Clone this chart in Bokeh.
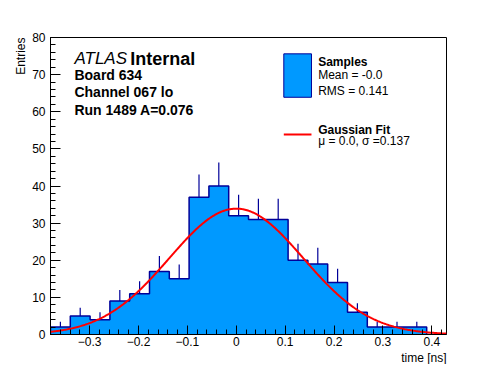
import numpy as np
from bokeh.plotting import figure
from bokeh.models import Range1d, FixedTicker, CustomJSTickFormatter, Label, Title
from bokeh.embed import file_html
from bokeh.resources import INLINE

# ---------------- data ----------------
bin_low = -0.38
bin_high = 0.43
counts = [2, 5, 4, 9, 11, 17, 15, 37, 40, 32, 31, 31, 20, 19, 14, 6, 2, 2, 2, 0]
fit_mu = 0.0
fit_sigma = 0.137
fit_amplitude = 33.9
x_major_ticks = [-0.3, -0.2, -0.1, 0.0, 0.1, 0.2, 0.3, 0.4]
y_major_ticks = [0, 10, 20, 30, 40, 50, 60, 70, 80]
y_minor_ticks = list(range(0, 81, 2))
x_minor_step = 0.02
title_lines = ["Board 634", "Channel 067 lo", "Run 1489 A=0.076"]
legend_hist_title = "Samples"
legend_hist_lines = ["Mean = -0.0", "RMS = 0.141"]
legend_fit_title = "Gaussian Fit"
legend_fit_line = "\u03bc = 0.0, \u03c3 =0.137"
x_title = "time [ns]"
y_title = "Entries"

FONT = "Liberation Sans"
HIST_FILL = "#0099ff"
HIST_LINE = "#000099"
FIT_COLOR = "#ff0000"

counts_arr = np.array(counts, dtype=float)
edges = np.linspace(bin_low, bin_high, len(counts) + 1)
centers = 0.5 * (edges[:-1] + edges[1:])

p = figure(frame_width=396, frame_height=297,
           x_range=Range1d(bin_low, bin_high), y_range=Range1d(0, 80),
           output_backend="svg", toolbar_location=None,
           min_border_left=50, min_border_right=34,
           min_border_top=37, min_border_bottom=10)
p.background_fill_color = "white"
p.border_fill_color = "white"
p.xgrid.visible = False
p.ygrid.visible = False
p.outline_line_color = "black"
p.outline_line_width = 1

x_minor = list(np.round(np.arange(bin_low, bin_high + 1e-9, x_minor_step), 2))
p.xaxis.ticker = FixedTicker(ticks=x_major_ticks, minor_ticks=x_minor)
p.xaxis.formatter = CustomJSTickFormatter(code="""
if (Math.abs(tick) < 1e-9) { return "0"; }
const s = Math.abs(tick).toFixed(1);
return tick < 0 ? "\\u2212" + s : s;
""")
p.yaxis.ticker = FixedTicker(ticks=y_major_ticks, minor_ticks=y_minor_ticks)
for ax, maj, mnr in ((p.xaxis, 9, 5), (p.yaxis, 10, 5)):
    ax.major_tick_in = maj
    ax.major_tick_out = 0
    ax.minor_tick_in = mnr
    ax.minor_tick_out = 0
    ax.major_tick_line_color = "black"
    ax.minor_tick_line_color = "black"
    ax.axis_line_color = "black"
    ax.major_label_text_font = FONT
    ax.major_label_text_font_size = "12px"
    ax.major_label_text_color = "black"
p.xaxis.major_label_standoff = 2
p.yaxis.major_label_standoff = 5

# step outline coordinates of the histogram
sx = [edges[0]]
sy = [0.0]
for i, c in enumerate(counts_arr):
    sx += [edges[i], edges[i + 1]]
    sy += [c, c]
sx.append(edges[-1])
sy.append(0.0)
# histogram fill (single patch, no seams)
p.patch(sx, sy, fill_color=HIST_FILL, line_color=None)
# histogram outline
p.line(sx, sy, line_color=HIST_LINE, line_width=1.5)
# error bars (upper part)
nz = counts_arr > 0
p.segment(x0=centers[nz], y0=counts_arr[nz], x1=centers[nz],
          y1=counts_arr[nz] + np.sqrt(counts_arr[nz]),
          line_color=HIST_LINE, line_width=1.2)

# gaussian fit
fx = np.linspace(bin_low, bin_high, 400)
fy = fit_amplitude * np.exp(-0.5 * ((fx - fit_mu) / fit_sigma) ** 2)
p.line(fx, fy, line_color=FIT_COLOR, line_width=2)

# texts
def lab(x, y, text, size="13px", style="normal", align="left", angle=0.0, baseline="middle"):
    p.add_layout(Label(x=x, y=y, text=text, text_font=FONT, text_font_size=size,
                       text_font_style=style, text_align=align, angle=angle,
                       text_baseline=baseline, text_color="black"))

lab(-0.331, 74.3, "ATLAS", size="17px", style="italic")
lab(-0.217, 74.3, "Internal", size="18px", style="bold")
for t, yv in zip(title_lines, [69.9, 65.3, 60.6]):
    lab(-0.331, yv, t, size="14px", style="bold")

# legend
p.quad(left=0.0972, right=0.1538, bottom=63.9, top=75.6,
       fill_color=HIST_FILL, line_color=HIST_LINE, line_width=1)
lab(0.1675, 73.5, legend_hist_title, size="12px", style="bold")
lab(0.1675, 69.8, legend_hist_lines[0], size="12px")
lab(0.1675, 65.7, legend_hist_lines[1], size="12px")
p.line([0.0972, 0.1538], [53.9, 53.9], line_color=FIT_COLOR, line_width=2)
lab(0.1675, 55.1, legend_fit_title, size="12px", style="bold")
lab(0.1675, 52.0, legend_fit_line, size="12px")

# axis titles as side-panel titles
p.add_layout(Title(text=x_title, align="right", text_font=FONT, text_font_size="12px",
                   text_font_style="normal", text_color="black",
                   standoff=0, offset=0), "below")
p.add_layout(Title(text=y_title, align="right", text_font=FONT, text_font_size="12px",
                   text_font_style="normal", text_color="black",
                   standoff=3, offset=0), "left")

open("out.html", "w").write(file_html(p, INLINE))
